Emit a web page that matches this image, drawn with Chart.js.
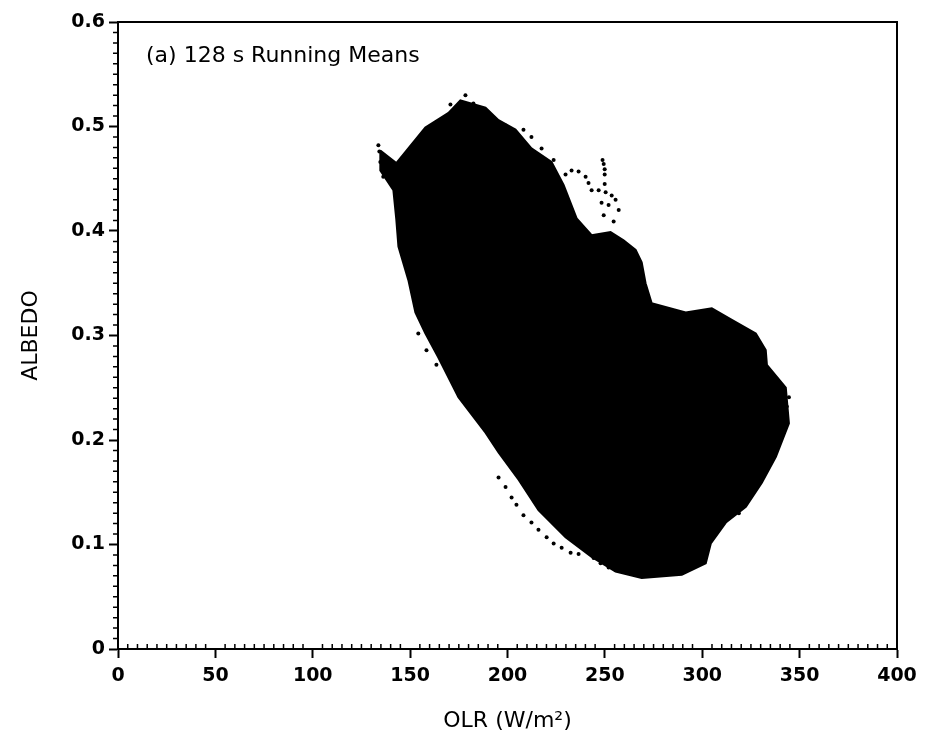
<!DOCTYPE html>
<html lang="en">
<head>
    <meta charset="UTF-8">
    <title>128 s Running Means</title>
    <script src="https://cdn.jsdelivr.net/npm/chart.js"></script>
    <style>
        body {
            margin: 0;
            background: #fff;
        }
        .chart-box {
            width: 925px;
            height: 740px;
        }
    </style>
</head>
<body>

    <div class="chart-box">
        <canvas id="olrChart"></canvas>
    </div>

    <script>
        // outline of the dense cloud of points (clockwise from upper left)
        const blobOlr = [134.7, 142.9, 157.8, 169.7, 175.8, 188.7, 195.4, 204.1, 212.3, 222.6,
            228.8, 235.5, 243.2, 252.9, 259.6, 265.8, 268.9, 270.9, 274.0, 291.5,
            304.9, 315.2, 327.5, 332.6, 333.2, 342.9, 344.5, 337.8, 330.6, 322.4,
            312.1, 304.4, 301.8, 289.5, 268.9, 255.5, 243.2, 229.8, 215.9, 205.7,
            195.4, 188.7, 174.8, 164.5, 157.8, 152.7, 149.1, 144.0, 142.9, 141.4,
            134.7, 134.7];
        const blobAlbedo = [0.477, 0.465, 0.499, 0.513, 0.525, 0.518, 0.506, 0.497, 0.479, 0.466,
            0.444, 0.412, 0.396, 0.399, 0.391, 0.382, 0.370, 0.350, 0.331, 0.322,
            0.326, 0.315, 0.302, 0.286, 0.272, 0.250, 0.216, 0.184, 0.159, 0.136,
            0.121, 0.101, 0.082, 0.071, 0.068, 0.074, 0.088, 0.107, 0.133, 0.162,
            0.188, 0.207, 0.241, 0.279, 0.302, 0.322, 0.353, 0.385, 0.411, 0.439,
            0.458, 0.477];

        // loose points around the edge of the cloud
        const dotOlr = [178.4, 170.7, 182.5, 184.1, 199.0, 208.2, 212.3, 217.5, 223.7,
            133.7, 134.2, 134.7, 136.2, 154.2, 158.4, 163.5,
            195.4, 199.0, 202.1, 204.6, 208.2, 212.3, 215.9, 220.1, 223.7, 227.8,
            232.4, 236.5, 244.2, 247.8, 251.9,
            229.8, 232.9, 236.5, 240.1, 241.6, 243.2, 246.8, 250.4, 253.5, 255.5,
            248.3, 251.9, 257.1, 249.4, 254.5,
            248.8, 249.4, 249.9, 249.9, 249.9,
            344.5, 343.4, 322.4, 318.8];
        const dotAlbedo = [0.530, 0.521, 0.522, 0.514, 0.501, 0.497, 0.490, 0.479, 0.468,
            0.482, 0.476, 0.466, 0.452, 0.302, 0.286, 0.272,
            0.164, 0.155, 0.145, 0.138, 0.128, 0.121, 0.114, 0.107, 0.101, 0.097,
            0.092, 0.091, 0.087, 0.082, 0.078,
            0.454, 0.458, 0.457, 0.452, 0.446, 0.439, 0.439, 0.437, 0.434, 0.430,
            0.427, 0.425, 0.420, 0.415, 0.409,
            0.468, 0.464, 0.459, 0.454, 0.445,
            0.241, 0.232, 0.140, 0.130];

        const olrTicks = [0, 50, 100, 150, 200, 250, 300, 350, 400];
        const albedoTicks = [0, 0.1, 0.2, 0.3, 0.4, 0.5, 0.6];

        const toPoints = (xs, ys) => xs.map((v, i) => ({ x: v, y: ys[i] }));

        // top/right frame, minor ticks and the panel label
        const framePlugin = {
            id: 'frame',
            afterDraw(chart) {
                const { ctx, chartArea: a, scales: { x, y } } = chart;
                ctx.save();
                ctx.strokeStyle = '#000';
                ctx.lineWidth = 2;
                ctx.beginPath();
                ctx.moveTo(a.left, a.top);
                ctx.lineTo(a.right, a.top);
                ctx.lineTo(a.right, a.bottom);
                ctx.stroke();

                ctx.lineWidth = 1.5;
                ctx.beginPath();
                for (let v = 5; v < 400; v += 5) {
                    if (v % 50 === 0) continue;
                    const px = x.getPixelForValue(v);
                    ctx.moveTo(px, a.bottom);
                    ctx.lineTo(px, a.bottom - 5);
                }
                for (let i = 1; i < 60; i++) {
                    if (i % 10 === 0) continue;
                    const py = y.getPixelForValue(i / 100);
                    ctx.moveTo(a.left - 5, py);
                    ctx.lineTo(a.left, py);
                }
                ctx.stroke();

                ctx.fillStyle = '#000';
                ctx.font = '22px "DejaVu Sans"';
                ctx.textBaseline = 'middle';
                ctx.fillText('(a) 128 s Running Means', a.left + 28, 56);
                ctx.restore();
            }
        };

        const ctx = document.getElementById('olrChart').getContext('2d');
        const olrChart = new Chart(ctx, {
            type: 'scatter',
            data: {
                datasets: [
                    {
                        label: 'cloud',
                        data: toPoints(blobOlr, blobAlbedo),
                        showLine: true,
                        fill: 'shape',
                        backgroundColor: '#000',
                        borderColor: '#000',
                        borderWidth: 2,
                        pointRadius: 0,
                        tension: 0
                    },
                    {
                        label: 'points',
                        data: toPoints(dotOlr, dotAlbedo),
                        backgroundColor: '#000',
                        borderColor: '#000',
                        pointRadius: 2,
                        borderWidth: 0
                    }
                ]
            },
            options: {
                responsive: true,
                maintainAspectRatio: false,
                animation: false,
                layout: { padding: { top: 22, right: 28, bottom: 0, left: 0 } },
                plugins: {
                    legend: { display: false },
                    tooltip: { enabled: false }
                },
                scales: {
                    x: {
                        type: 'linear',
                        min: 0,
                        max: 400,
                        afterBuildTicks: s => { s.ticks = olrTicks.map(v => ({ value: v })); },
                        afterFit: s => { s.height = 91; },
                        ticks: {
                            color: '#000',
                            padding: 7,
                            font: { family: 'DejaVu Sans', size: 19, weight: 'bold' }
                        },
                        grid: { drawOnChartArea: false, tickLength: 9, tickColor: '#000', tickWidth: 2 },
                        border: { display: true, color: '#000', width: 2 },
                        title: {
                            display: true,
                            text: 'OLR (W/m²)',
                            color: '#000',
                            padding: { top: 0, bottom: 6 },
                            font: { family: 'DejaVu Sans', size: 22 }
                        }
                    },
                    y: {
                        type: 'linear',
                        min: 0,
                        max: 0.6,
                        afterBuildTicks: s => { s.ticks = albedoTicks.map(v => ({ value: v })); },
                        afterFit: s => { s.width = 118; },
                        ticks: {
                            color: '#000',
                            padding: 4,
                            callback: v => v === 0 ? '0' : v.toFixed(1),
                            font: { family: 'DejaVu Sans', size: 19, weight: 'bold' }
                        },
                        grid: { drawOnChartArea: false, tickLength: 9, tickColor: '#000', tickWidth: 2 },
                        border: { display: true, color: '#000', width: 2 },
                        title: {
                            display: true,
                            text: 'ALBEDO',
                            color: '#000',
                            padding: { top: 18, bottom: 0 },
                            font: { family: 'DejaVu Sans', size: 22 }
                        }
                    }
                }
            },
            plugins: [framePlugin]
        });
    </script>

</body>
</html>
